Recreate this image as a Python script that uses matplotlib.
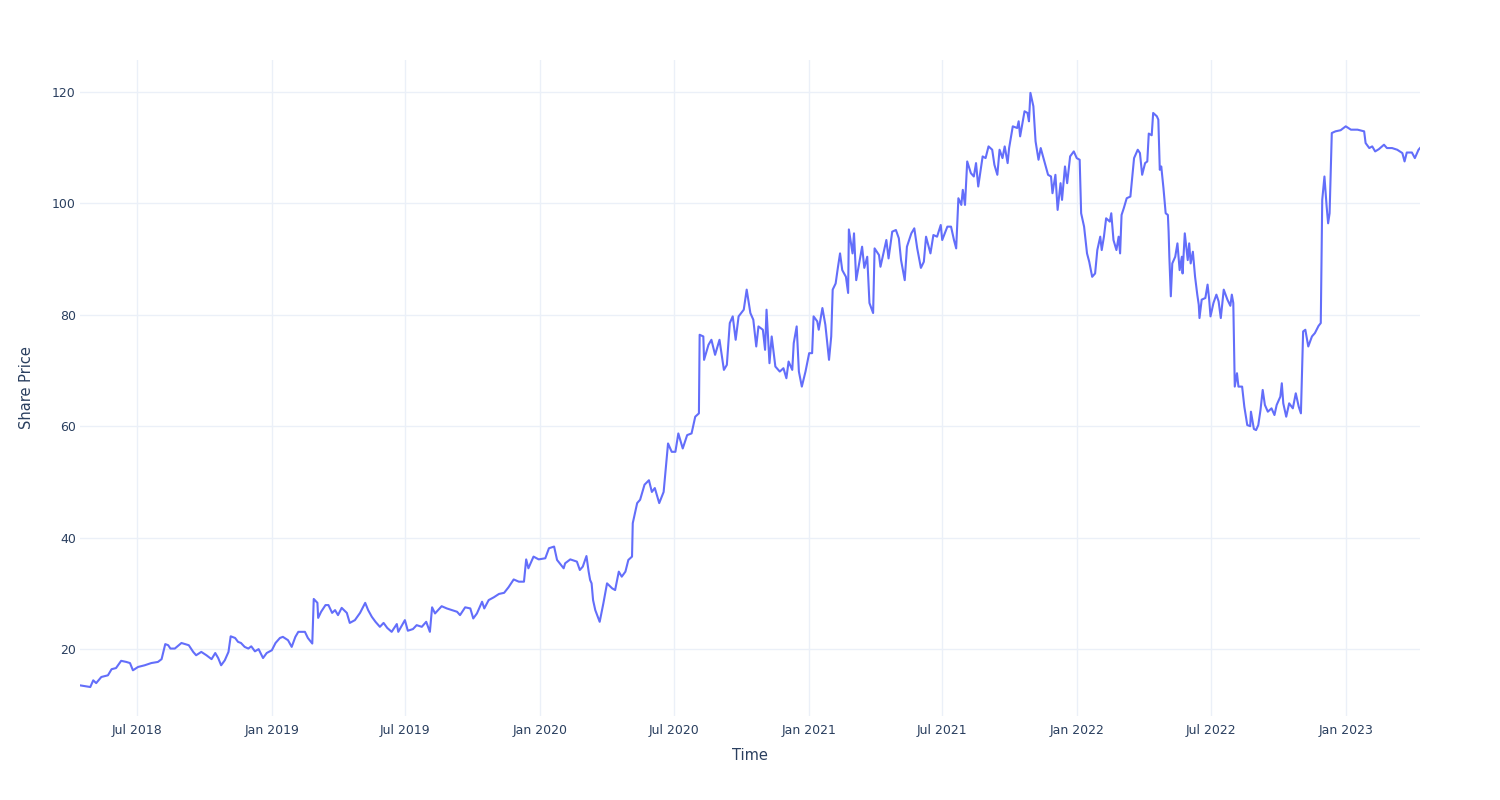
import pandas as pd
import matplotlib
matplotlib.use("Agg")
import matplotlib.pyplot as plt
import matplotlib.dates as mdates

# Share price (turning points)
dates = [
    # 2018
    "2018-04-15", "2018-04-29", "2018-05-03", "2018-05-07", "2018-05-14", "2018-05-23",
    "2018-05-28", "2018-06-03", "2018-06-10", "2018-06-17", "2018-06-22", "2018-06-26",
    "2018-07-03", "2018-07-12", "2018-07-21", "2018-07-30", "2018-08-04", "2018-08-09",
    "2018-08-13", "2018-08-16", "2018-08-22", "2018-08-31", "2018-09-10", "2018-09-16",
    "2018-09-20", "2018-09-27", "2018-10-04", "2018-10-11", "2018-10-16", "2018-10-20",
    "2018-10-24", "2018-10-29", "2018-11-03", "2018-11-06", "2018-11-12", "2018-11-16",
    "2018-11-20", "2018-11-25", "2018-11-30", "2018-12-04", "2018-12-09", "2018-12-14",
    "2018-12-20", "2018-12-25",
    # 2019
    "2019-01-01", "2019-01-06", "2019-01-12", "2019-01-16", "2019-01-23", "2019-01-28",
    "2019-02-02", "2019-02-06", "2019-02-15", "2019-02-19", "2019-02-25", "2019-02-27",
    "2019-03-04", "2019-03-05", "2019-03-09", "2019-03-15", "2019-03-19", "2019-03-24",
    "2019-03-28", "2019-04-01", "2019-04-06", "2019-04-13", "2019-04-17", "2019-04-24",
    "2019-05-01", "2019-05-08", "2019-05-12", "2019-05-17", "2019-05-22", "2019-05-28",
    "2019-06-02", "2019-06-07", "2019-06-13", "2019-06-20", "2019-06-22", "2019-07-01",
    "2019-07-05", "2019-07-12", "2019-07-17", "2019-07-24", "2019-07-30", "2019-08-04",
    "2019-08-07", "2019-08-11", "2019-08-20", "2019-08-27", "2019-09-03", "2019-09-10",
    "2019-09-14", "2019-09-21", "2019-09-28", "2019-10-02", "2019-10-07", "2019-10-14",
    "2019-10-17", "2019-10-23", "2019-10-30", "2019-11-06", "2019-11-13", "2019-11-19",
    "2019-11-26", "2019-12-03", "2019-12-10", "2019-12-13", "2019-12-16", "2019-12-23",
    "2019-12-30",
    # 2020
    "2020-01-08", "2020-01-13", "2020-01-20", "2020-01-24", "2020-02-02", "2020-02-04",
    "2020-02-11", "2020-02-20", "2020-02-24", "2020-02-28", "2020-03-04", "2020-03-07",
    "2020-03-09", "2020-03-11", "2020-03-13", "2020-03-16", "2020-03-22", "2020-03-27",
    "2020-04-01", "2020-04-08", "2020-04-12", "2020-04-17", "2020-04-21", "2020-04-26",
    "2020-04-30", "2020-05-05", "2020-05-06", "2020-05-12", "2020-05-16", "2020-05-22",
    "2020-05-28", "2020-06-01", "2020-06-05", "2020-06-11", "2020-06-17", "2020-06-23",
    "2020-06-28", "2020-07-03", "2020-07-07", "2020-07-13", "2020-07-19", "2020-07-25",
    "2020-07-30", "2020-08-04", "2020-08-05", "2020-08-10", "2020-08-11", "2020-08-17",
    "2020-08-21", "2020-08-26", "2020-09-01", "2020-09-07", "2020-09-11", "2020-09-15",
    "2020-09-19", "2020-09-23", "2020-09-27", "2020-10-04", "2020-10-08", "2020-10-13",
    "2020-10-17", "2020-10-21", "2020-10-24", "2020-10-30", "2020-11-02", "2020-11-04",
    "2020-11-08", "2020-11-11", "2020-11-16", "2020-11-22", "2020-11-27", "2020-12-01",
    "2020-12-04", "2020-12-09", "2020-12-11", "2020-12-15", "2020-12-18", "2020-12-22",
    "2020-12-27",
    # 2021
    "2021-01-01", "2021-01-05", "2021-01-07", "2021-01-12", "2021-01-14", "2021-01-19",
    "2021-01-23", "2021-01-28", "2021-01-31", "2021-02-02", "2021-02-06", "2021-02-09",
    "2021-02-12", "2021-02-15", "2021-02-20", "2021-02-23", "2021-02-24", "2021-03-01",
    "2021-03-03", "2021-03-06", "2021-03-12", "2021-03-14", "2021-03-17", "2021-03-21",
    "2021-03-24", "2021-03-29", "2021-03-31", "2021-04-06", "2021-04-08", "2021-04-12",
    "2021-04-16", "2021-04-19", "2021-04-24", "2021-04-29", "2021-05-03", "2021-05-06",
    "2021-05-11", "2021-05-14", "2021-05-20", "2021-05-24", "2021-05-28", "2021-06-02",
    "2021-06-06", "2021-06-09", "2021-06-15", "2021-06-19", "2021-06-24", "2021-06-29",
    "2021-07-01", "2021-07-08", "2021-07-13", "2021-07-17", "2021-07-20", "2021-07-23",
    "2021-07-27", "2021-07-29", "2021-08-01", "2021-08-04", "2021-08-09", "2021-08-13",
    "2021-08-16", "2021-08-19", "2021-08-25", "2021-08-29", "2021-09-02", "2021-09-07",
    "2021-09-10", "2021-09-14", "2021-09-17", "2021-09-21", "2021-09-24", "2021-09-28",
    "2021-09-30", "2021-10-05", "2021-10-11", "2021-10-13", "2021-10-15", "2021-10-21",
    "2021-10-25", "2021-10-27", "2021-10-29", "2021-11-02", "2021-11-05", "2021-11-09",
    "2021-11-12", "2021-11-17", "2021-11-22", "2021-11-26", "2021-11-28", "2021-12-02",
    "2021-12-05", "2021-12-09", "2021-12-11", "2021-12-15", "2021-12-18", "2021-12-22",
    "2021-12-27", "2021-12-31",
    # 2022
    "2022-01-04", "2022-01-06", "2022-01-10", "2022-01-14", "2022-01-17", "2022-01-21",
    "2022-01-25", "2022-01-28", "2022-02-01", "2022-02-03", "2022-02-06", "2022-02-09",
    "2022-02-14", "2022-02-16", "2022-02-19", "2022-02-23", "2022-02-26", "2022-02-28",
    "2022-03-02", "2022-03-05", "2022-03-09", "2022-03-14", "2022-03-19", "2022-03-24",
    "2022-03-27", "2022-03-30", "2022-04-03", "2022-04-06", "2022-04-08", "2022-04-12",
    "2022-04-14", "2022-04-19", "2022-04-21", "2022-04-23", "2022-04-25", "2022-04-28",
    "2022-05-01", "2022-05-04", "2022-05-05", "2022-05-06", "2022-05-08", "2022-05-10",
    "2022-05-14", "2022-05-17", "2022-05-20", "2022-05-23", "2022-05-24", "2022-05-27",
    "2022-05-31", "2022-06-02", "2022-06-04", "2022-06-07", "2022-06-10", "2022-06-13",
    "2022-06-15", "2022-06-16", "2022-06-19", "2022-06-24", "2022-06-27", "2022-06-29",
    "2022-07-01", "2022-07-05", "2022-07-09", "2022-07-12", "2022-07-15", "2022-07-19",
    "2022-07-24", "2022-07-28", "2022-07-30", "2022-08-01", "2022-08-03", "2022-08-06",
    "2022-08-08", "2022-08-13", "2022-08-16", "2022-08-20", "2022-08-24", "2022-08-25",
    "2022-08-29", "2022-09-01", "2022-09-04", "2022-09-07", "2022-09-10", "2022-09-13",
    "2022-09-17", "2022-09-22", "2022-09-26", "2022-09-29", "2022-10-04", "2022-10-06",
    "2022-10-08", "2022-10-12", "2022-10-16", "2022-10-21", "2022-10-25", "2022-10-29",
    "2022-11-01", "2022-11-04", "2022-11-07", "2022-11-11", "2022-11-16", "2022-11-20",
    "2022-11-25", "2022-11-28", "2022-11-30", "2022-12-03", "2022-12-06", "2022-12-08",
    "2022-12-10", "2022-12-13", "2022-12-18", "2022-12-25",
    # 2023
    "2023-01-01", "2023-01-08", "2023-01-17", "2023-01-26", "2023-01-28", "2023-02-02",
    "2023-02-06", "2023-02-10", "2023-02-15", "2023-02-22", "2023-02-26", "2023-03-05",
    "2023-03-12", "2023-03-19", "2023-03-22", "2023-03-25", "2023-04-01", "2023-04-05",
    "2023-04-10", "2023-04-12",
]

prices = [
    # 2018
    13.5, 13.2, 14.4, 13.9, 15.0, 15.3,
    16.4, 16.6, 17.9, 17.7, 17.5, 16.2,
    16.8, 17.1, 17.5, 17.7, 18.2, 20.9,
    20.7, 20.1, 20.1, 21.1, 20.7, 19.5,
    18.9, 19.5, 18.9, 18.2, 19.3, 18.4,
    17.1, 18.0, 19.5, 22.3, 22.0, 21.3,
    21.1, 20.4, 20.1, 20.5, 19.6, 20.0,
    18.4, 19.3,
    # 2019
    19.8, 21.1, 22.0, 22.2, 21.6, 20.4,
    22.2, 23.1, 23.1, 22.0, 21.0, 29.0,
    28.3, 25.6, 26.7, 27.9, 27.9, 26.5,
    27.0, 26.1, 27.4, 26.5, 24.7, 25.2,
    26.5, 28.3, 27.0, 25.8, 24.9, 24.0,
    24.7, 23.8, 23.1, 24.5, 23.1, 25.2,
    23.3, 23.6, 24.3, 24.0, 24.9, 23.1,
    27.5, 26.4, 27.7, 27.3, 27.0, 26.7,
    26.1, 27.5, 27.3, 25.5, 26.4, 28.5,
    27.3, 28.8, 29.3, 29.9, 30.1, 31.1,
    32.5, 32.1, 32.1, 36.1, 34.5, 36.6,
    36.1,
    # 2020
    36.3, 38.1, 38.4, 36.0, 34.5, 35.4,
    36.1, 35.7, 34.2, 34.8, 36.7, 33.9,
    32.4, 31.8, 28.8, 27.0, 24.9, 28.2,
    31.8, 30.9, 30.6, 33.9, 33.0, 33.9,
    36.0, 36.6, 42.6, 46.2, 46.8, 49.5,
    50.3, 48.2, 48.9, 46.2, 48.2, 56.9,
    55.4, 55.4, 58.7, 56.0, 58.4, 58.7,
    61.7, 62.3, 76.4, 76.1, 71.9, 74.6,
    75.5, 72.8, 75.5, 70.1, 71.0, 78.5,
    79.7, 75.5, 79.7, 80.9, 84.5, 80.3,
    79.1, 74.3, 77.9, 77.3, 73.7, 80.9,
    71.3, 76.1, 70.7, 69.8, 70.4, 68.6,
    71.6, 70.1, 74.9, 77.9, 69.8, 67.1,
    69.8,
    # 2021
    73.1, 73.1, 79.7, 78.8, 77.3, 81.2,
    78.2, 71.9, 76.1, 84.5, 85.6, 88.4,
    91.0, 88.0, 86.8, 83.9, 95.3, 91.0,
    94.6, 86.2, 90.7, 92.2, 88.4, 90.4,
    82.1, 80.3, 91.9, 90.7, 88.6, 91.0,
    93.4, 90.1, 94.9, 95.2, 93.7, 89.8,
    86.2, 92.2, 94.6, 95.5, 91.9, 88.4,
    89.5, 94.0, 91.0, 94.3, 94.0, 96.1,
    93.4, 95.8, 95.8, 93.4, 91.9, 100.9,
    99.7, 102.4, 99.7, 107.5, 105.4, 104.8,
    107.2, 103.0, 108.4, 108.1, 110.2, 109.6,
    106.9, 105.1, 109.6, 108.1, 110.2, 107.2,
    109.9, 113.8, 113.5, 114.7, 112.0, 116.5,
    116.2, 114.7, 119.8, 117.4, 111.1, 107.8,
    109.9, 107.5, 105.1, 104.8, 101.8, 105.1,
    98.8, 103.6, 100.6, 106.6, 103.6, 108.4,
    109.3, 108.1,
    # 2022
    107.8, 98.2, 95.8, 91.0, 89.5, 86.8,
    87.4, 91.6, 94.0, 91.6, 94.0, 97.3,
    96.7, 98.2, 93.4, 91.6, 94.0, 91.0,
    97.9, 99.1, 100.9, 101.2, 108.1, 109.6,
    109.0, 105.1, 107.2, 107.5, 112.5, 112.2,
    116.2, 115.6, 115.0, 106.0, 106.6, 102.7,
    98.2, 97.9, 94.9, 90.4, 83.3, 89.2,
    90.4, 92.8, 88.0, 90.4, 87.4, 94.6,
    89.8, 92.8, 89.2, 91.3, 86.8, 83.6,
    81.8, 79.4, 82.7, 83.0, 85.4, 83.0,
    79.7, 82.1, 83.6, 82.4, 79.4, 84.5,
    82.7, 81.6, 83.6, 82.1, 67.1, 69.5,
    67.1, 67.1, 63.5, 60.2, 60.0, 62.6,
    59.5, 59.3, 60.2, 62.9, 66.5, 63.8,
    62.6, 63.2, 62.0, 63.8, 65.3, 67.7,
    64.1, 61.7, 64.1, 63.2, 65.9, 63.5,
    62.3, 77.0, 77.3, 74.3, 76.1, 76.7,
    78.0, 78.5, 100.6, 104.8, 99.4, 96.4,
    98.2, 112.6, 112.9, 113.1,
    # 2023
    113.8, 113.2, 113.2, 112.9, 110.8, 109.9,
    110.2, 109.3, 109.7, 110.5, 109.9, 109.9,
    109.6, 109.0, 107.5, 109.1, 109.1, 108.1,
    109.6, 109.9,
]

y_ticks = [20, 40, 60, 80, 100, 120]

df = pd.DataFrame({"Date": pd.to_datetime(dates), "Price": prices})

grid_col = "#EBF0F8"
text_col = "#2a3f5f"

fig = plt.figure(figsize=(15, 8), dpi=100)
ax = fig.add_axes([80 / 1500, 1 - 716 / 800, 1340 / 1500, 656 / 800])

ax.plot(df["Date"], df["Price"], color="#636EFA", linewidth=1.5, zorder=3)

ax.set_xlim(df["Date"].iloc[0], df["Date"].iloc[-1])
ax.set_ylim(8.0, 125.7)
ax.set_yticks(y_ticks)

ax.xaxis.set_major_locator(mdates.MonthLocator(bymonth=[1, 7]))
ax.xaxis.set_major_formatter(mdates.DateFormatter("%b %Y"))

ax.grid(True, color=grid_col, linewidth=1)
ax.set_axisbelow(True)
for s in ax.spines.values():
    s.set_visible(False)
ax.tick_params(axis="both", length=0, labelsize=9, labelcolor=text_col)
ax.tick_params(axis="x", pad=6)
ax.tick_params(axis="y", pad=3)

ax.set_xlabel("Time", fontsize=10.5, color=text_col, va="center")
ax.set_ylabel("Share Price", fontsize=10.5, color=text_col, va="center")
ax.xaxis.set_label_coords(0.5, (716 - 756) / 656)
ax.yaxis.set_label_coords((27 - 80) / 1340, 0.5)

fig.savefig("out.png", dpi=100, facecolor="white")
